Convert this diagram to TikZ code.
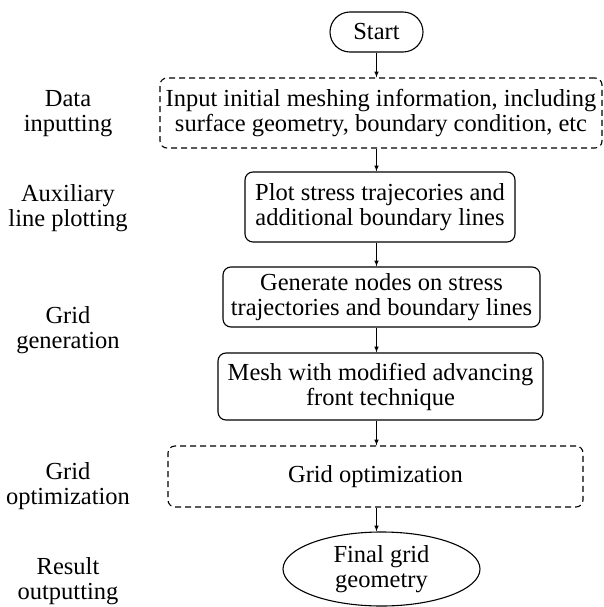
\documentclass[tikz,border=0pt]{standalone}
\usepackage{fontspec}
\setmainfont{Liberation Serif}
\usetikzlibrary{shapes.geometric, arrows}

\begin{document}
\begin{tikzpicture}[x=1pt, y=-1pt, font=\fontsize{24.5}{25}\selectfont]
\tikzstyle{line}=[draw, line width=1.1pt]
\tikzstyle{startstop} = [rectangle, rounded corners=20pt, minimum width=93pt, minimum height=40pt, inner sep=0pt, text centered, line]
\tikzstyle{process} = [rectangle, rounded corners=8pt, inner sep=0pt, text centered, line]
\tikzstyle{dprocess} = [rectangle, rounded corners=7pt, inner sep=0pt, text centered, line, dash pattern=on 6pt off 4pt]
\tikzstyle{final} = [ellipse, minimum width=197pt, minimum height=74pt, inner sep=0pt, text centered, line]
\tikzstyle{stage} = [align=center, text centered]
\tikzstyle{arrow}=[draw, line width=1pt, -latex]

\useasboundingbox (0,0) rectangle (604,607);

\node (start) [startstop] at (376.5,32) {Start};
\node (input) [dprocess, minimum width=442pt, minimum height=70pt, align=center] at (381,113) {Input initial meshing information, including\\surface geometry, boundary condition, etc};
\node (plot) [process, minimum width=270pt, minimum height=70pt, align=center] at (380,207) {Plot stress trajecories and\\additional boundary lines};
\node (nodes) [process, minimum width=317pt, minimum height=60pt, align=center] at (381.5,297) {Generate nodes on stress\\trajectories and boundary lines};
\node (mesh) [process, minimum width=325pt, minimum height=67pt, align=center] at (380.5,386.5) {Mesh with modified advancing\\front technique};
\node (optim) [dprocess, minimum width=415pt, minimum height=61pt] at (375.5,476.5) {Grid optimization};
\node (result) [final, align=center] at (381.5,569) {Final grid\\geometry};

\node (sData) [stage] at (68,113.5) {Data\\inputting};
\node (sAux) [stage] at (68,208.5) {Auxiliary\\line plotting};
\node (sGen) [stage] at (68,330) {Grid\\generation};
\node (sOpt) [stage] at (68,486) {Grid\\optimization};
\node (sRes) [stage] at (68,581) {Result\\outputting};

\draw [arrow] (start.south) -- (start.south |- input.north);
\draw [arrow] (start.south |- input.south) -- (start.south |- plot.north);
\draw [arrow] (start.south |- plot.south) -- (start.south |- nodes.north);
\draw [arrow] (start.south |- nodes.south) -- (start.south |- mesh.north);
\draw [arrow] (start.south |- mesh.south) -- (start.south |- optim.north);
\draw [arrow] (start.south |- optim.south) -- (start.south |- result.north);

\end{tikzpicture}
\end{document}
